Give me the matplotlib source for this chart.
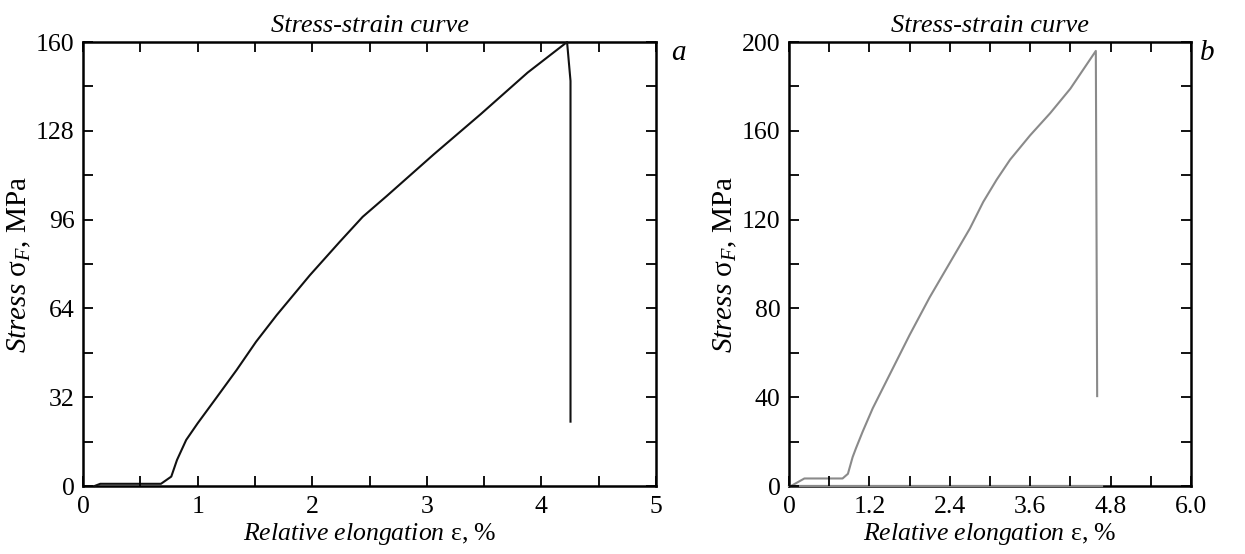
import matplotlib
matplotlib.use("Agg")
import matplotlib.pyplot as plt
from matplotlib.ticker import MultipleLocator

plt.rcParams['font.family'] = ['Liberation Serif', 'DejaVu Serif']
plt.rcParams['mathtext.fontset'] = 'custom'
plt.rcParams['mathtext.rm'] = 'Liberation Serif'
plt.rcParams['mathtext.it'] = 'Liberation Serif:italic'

# Panel a data (relative elongation %, stress MPa)
strain_a = [0.10, 0.15, 0.68, 0.77, 0.82, 0.90, 1.00, 1.16, 1.34, 1.51, 1.69,
            1.98, 2.24, 2.44, 2.65, 3.06, 3.47, 3.88, 4.224, 4.254, 4.254]
stress_a = [0.0, 0.8, 0.8, 3.4, 9.4, 16.6, 22.6, 31.6, 41.8, 52.0, 61.6,
            76.0, 88.0, 97.0, 104.5, 119.5, 134.0, 149.0, 160.0, 146.0, 23.2]

# Panel b data
strain_b = [0.03, 0.23, 0.80, 0.88, 0.95, 1.00, 1.10, 1.25, 1.50, 1.80, 2.10,
            2.40, 2.70, 2.90, 3.10, 3.30, 3.60, 3.90, 4.20, 4.58, 4.60]
stress_b = [0.0, 3.4, 3.4, 5.5, 13.0, 17.0, 24.5, 35.0, 50.0, 68.0, 85.0,
            100.5, 116.0, 128.0, 138.0, 147.0, 158.0, 168.0, 179.0, 196.0, 40.5]
# post-break return to zero, drawn along the axis
tail_b_x = [0.0, 4.67]
tail_b_y = [0.0, 0.0]

xticks_a = [0, 1, 2, 3, 4, 5]
yticks_a = [0, 32, 64, 96, 128, 160]
xticks_b = [0, 1.2, 2.4, 3.6, 4.8, 6.0]
yticks_b = [0, 40, 80, 120, 160, 200]

title = "Stress-strain curve"
xlabel = r"$\mathit{Relative\ elongation}$ ε, %"
ylabel = r"$\mathit{Stress}$ σ$_{\mathit{F}}$, MPa"

fig = plt.figure(figsize=(12.45, 5.54), dpi=100)
ax_a = fig.add_axes([0.0667, 0.1227, 0.4602, 0.8014])
ax_b = fig.add_axes([0.6337, 0.1227, 0.3229, 0.8014])

def style(ax, xt, yt, xminor, yminor, xfmt, panel):
    ax.set_xlim(xt[0], xt[-1])
    ax.set_ylim(yt[0], yt[-1])
    ax.set_xticks(xt)
    ax.set_yticks(yt)
    ax.set_xticklabels([xfmt(v) for v in xt])
    ax.set_yticklabels([str(v) for v in yt])
    ax.xaxis.set_minor_locator(MultipleLocator(xminor))
    ax.yaxis.set_minor_locator(MultipleLocator(yminor))
    ax.tick_params(which='both', direction='in', bottom=True, left=True,
                   top=True, right=True, length=7.2, width=1.3,
                   color='black', labelsize=18.5)
    ax.tick_params(axis='x', which='major', pad=7)
    ax.tick_params(axis='y', which='major', pad=6)
    ax.xaxis.set_zorder(2.6)
    ax.yaxis.set_zorder(2.6)
    for s in ax.spines.values():
        s.set_linewidth(1.8)
        s.set_zorder(2.0)
    ax.set_title(title, fontsize=19, style='italic', pad=7)
    ax.set_xlabel(xlabel, fontsize=18.5, labelpad=2)
    ax.set_ylabel(ylabel, fontsize=21, labelpad=2)
    ax.text(1.04, 0.975, panel, transform=ax.transAxes, fontsize=21,
            style='italic', ha='center', va='center')

ax_a.plot(strain_a, stress_a, color='#111111', lw=1.5, clip_on=False,
          zorder=2.3)
style(ax_a, xticks_a, yticks_a, 0.5, 16, lambda v: f"{v:g}", 'a')

ax_b.plot(tail_b_x, tail_b_y, color='#8a8a8a', lw=1.6, zorder=2.2,
          clip_on=False)
ax_b.plot(strain_b, stress_b, color='#8a8a8a', lw=1.5, clip_on=False,
          zorder=2.3)
style(ax_b, xticks_b, yticks_b, 0.6, 20,
      lambda v: "0" if v == 0 else f"{v:.1f}", 'b')

fig.savefig("out.png", dpi=100)
